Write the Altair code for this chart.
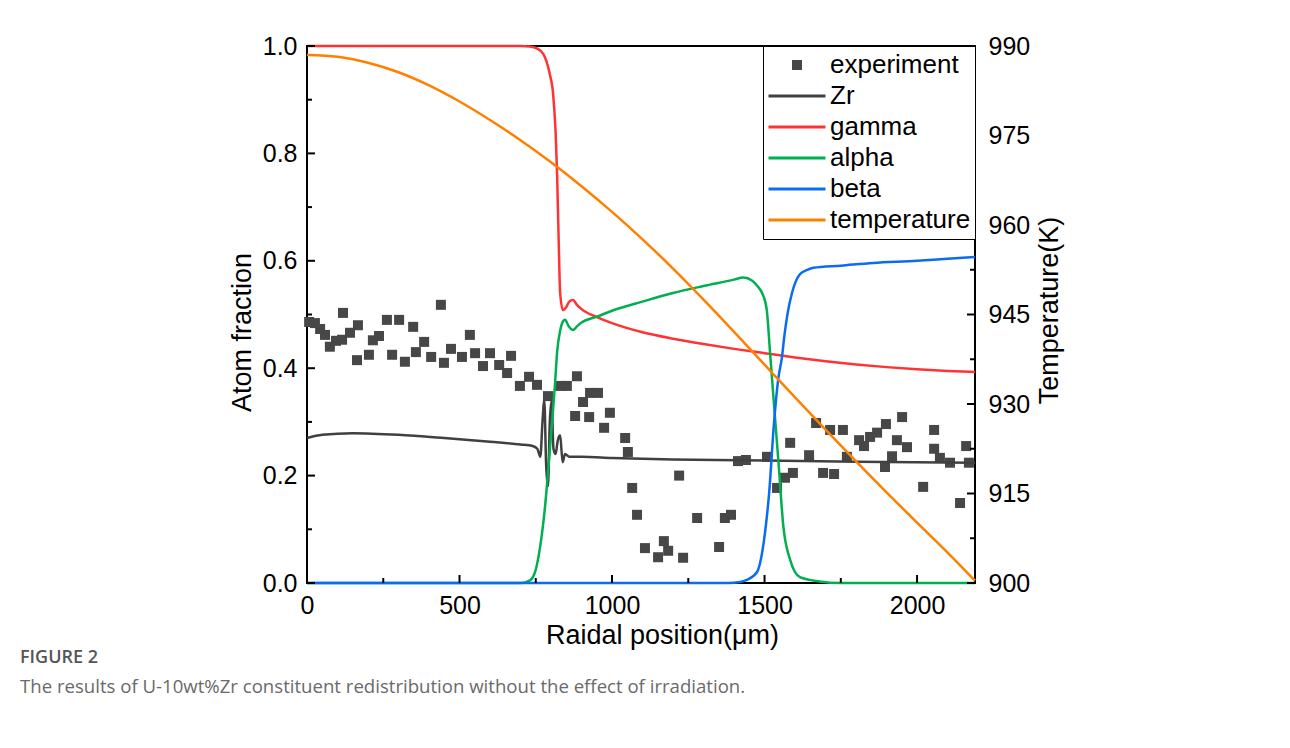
import altair as alt
import pandas as pd

# ---------------- data ----------------
exp_x = [7, 26, 43, 59, 75, 95, 115, 118, 141, 167,
         164, 203, 216, 236, 262, 279, 302, 321, 348, 357,
         384, 407, 439, 449, 472, 508, 534, 551, 577, 600,
         630, 656, 669, 698, 728, 754, 790, 830, 852, 885,
         879, 905, 925, 928, 954, 974, 993, 1043, 1052, 1066,
         1082, 1108, 1151, 1170, 1184, 1220, 1233, 1279, 1351, 1370,
         1390, 1413, 1439, 1508, 1541, 1567, 1593, 1584, 1646, 1669,
         1692, 1715, 1728, 1757, 1770, 1810, 1826, 1846, 1869, 1898,
         1895, 1918, 1934, 1951, 1967, 2020, 2056, 2056, 2075, 2108,
         2141, 2161, 2170]
exp_y = [0.486, 0.484, 0.473, 0.462, 0.440, 0.451, 0.453, 0.503, 0.466, 0.480,
         0.415, 0.425, 0.452, 0.460, 0.490, 0.425, 0.490, 0.412, 0.477, 0.430,
         0.449, 0.421, 0.518, 0.410, 0.436, 0.421, 0.462, 0.428, 0.404, 0.428,
         0.406, 0.391, 0.423, 0.367, 0.384, 0.369, 0.348, 0.367, 0.367, 0.385,
         0.311, 0.337, 0.309, 0.354, 0.354, 0.289, 0.317, 0.270, 0.244, 0.177,
         0.127, 0.065, 0.048, 0.078, 0.060, 0.200, 0.047, 0.121, 0.067, 0.121,
         0.127, 0.227, 0.229, 0.235, 0.177, 0.196, 0.205, 0.261, 0.238, 0.298,
         0.205, 0.285, 0.203, 0.285, 0.235, 0.266, 0.255, 0.272, 0.280, 0.296,
         0.216, 0.236, 0.266, 0.309, 0.253, 0.179, 0.285, 0.250, 0.233, 0.224,
         0.149, 0.255, 0.224]

zr_x = [0, 50, 150, 300, 450, 600, 700, 740, 755, 765, 772, 778, 784, 790,
        796, 802, 808, 815, 822, 830, 838, 846, 860, 900, 1000, 1200, 1500,
        1800, 2190]
zr_y = [0.270, 0.276, 0.279, 0.276, 0.270, 0.263, 0.258, 0.255, 0.250, 0.235,
        0.300, 0.340, 0.220, 0.180, 0.300, 0.340, 0.250, 0.240, 0.265, 0.275,
        0.225, 0.240, 0.235, 0.235, 0.233, 0.230, 0.228, 0.226, 0.224]

gamma_x = [0, 700, 730, 755, 775, 795, 807, 815, 820, 825, 830, 839, 848,
           860, 872, 885, 900, 951, 1000, 1100, 1200, 1300, 1400, 1500, 1600,
           1700, 1800, 1900, 2000, 2100, 2190]
gamma_y = [1.0, 1.0, 0.999, 0.995, 0.985, 0.95, 0.91, 0.84, 0.76, 0.64, 0.54,
           0.508, 0.512, 0.524, 0.527, 0.518, 0.510, 0.495, 0.484, 0.467, 0.455,
           0.445, 0.436, 0.428, 0.420, 0.413, 0.407, 0.402, 0.398, 0.395, 0.393]

alpha_x = [0, 700, 731, 750, 765, 780, 795, 805, 813, 820, 830, 839, 846,
           858, 872, 885, 900, 951, 1000, 1100, 1200, 1300, 1400, 1430, 1460,
           1478, 1492, 1507, 1518, 1530, 1545, 1562, 1584, 1616, 1680, 1750,
           2190]
alpha_y = [0.0, 0.0, 0.005, 0.025, 0.07, 0.14, 0.24, 0.31, 0.37, 0.43, 0.47,
           0.487, 0.490, 0.478, 0.471, 0.478, 0.485, 0.496, 0.507, 0.524, 0.540,
           0.553, 0.565, 0.569, 0.563, 0.552, 0.540, 0.510, 0.430, 0.340, 0.230,
           0.104, 0.043, 0.011, 0.003, 0.0, 0.0]

beta_x = [0, 1380, 1420, 1442, 1475, 1490, 1505, 1515, 1530, 1545, 1557, 1565,
          1575, 1590, 1616, 1640, 1660, 1750, 1856, 2000, 2100, 2190]
beta_y = [0.0, 0.0, 0.002, 0.006, 0.02, 0.05, 0.11, 0.167, 0.29, 0.38, 0.42,
          0.46, 0.50, 0.54, 0.575, 0.583, 0.587, 0.591, 0.596, 0.600, 0.604,
          0.607]

temp_x = [0, 100, 200, 300, 400, 500, 600, 700, 800, 900, 1000, 1100, 1200,
          1300, 1400, 1500, 1600, 1700, 1800, 1900, 2000, 2100, 2190]
temp_y = [988.5, 988.2, 987.2, 985.6, 983.4, 980.7, 977.6, 974.2, 970.5,
          966.5, 962.2, 957.6, 952.7, 947.5, 942.1, 936.6, 931.1, 925.7,
          920.4, 915.2, 910.1, 905.1, 900.4]

series_names = ["experiment", "Zr", "gamma", "alpha", "beta", "temperature"]
series_colors = ["#474747", "#404040", "#ff3333", "#00b050", "#0a6cf0", "#ff8000"]
legend_shapes = ["square", "stroke", "stroke", "stroke", "stroke", "stroke"]
legend_sizes = [25, 3249, 3249, 3249, 3249, 3249]
legend_widths = [5, 3, 3, 3, 3, 3]

x_major = [0, 500, 1000, 1500, 2000]
x_minor = [250, 750, 1250, 1750]
y_major = [0.0, 0.2, 0.4, 0.6, 0.8, 1.0]
y_minor = [0.1, 0.3, 0.5, 0.7, 0.9]
t_major = [900, 915, 930, 945, 960, 975, 990]
t_minor = [907.5, 922.5, 937.5, 952.5, 967.5, 982.5]

caption_title = "FIGURE 2"
caption_text = ("The results of U-10wt%Zr constituent redistribution "
                "without the effect of irradiation.")

# ---------------- tables ----------------
df_exp = pd.DataFrame({"x": exp_x, "y": exp_y, "series": "experiment"})
parts = []
for name, xs, ys in [("Zr", zr_x, zr_y), ("gamma", gamma_x, gamma_y),
                     ("alpha", alpha_x, alpha_y), ("beta", beta_x, beta_y)]:
    parts.append(pd.DataFrame({"x": xs, "y": ys, "series": name}))
df_lines = pd.concat(parts, ignore_index=True)
df_temp = pd.DataFrame({"x": temp_x, "t": temp_y, "series": "temperature"})

W, H = 668, 537
FONT = "Liberation Sans"

x_scale = alt.Scale(domain=[0, 2190], nice=False, zero=False)
y_scale = alt.Scale(domain=[0, 1], nice=False, zero=False)
t_scale = alt.Scale(domain=[900, 990], nice=False, zero=False)

legend = alt.Legend(
    title=None, orient="top-right", offset=0, padding=4, rowPadding=1,
    clipHeight=30, labelFont=FONT, labelFontSize=26, labelColor="black",
    labelOffset=3, labelLimit=400, strokeColor="black", fillColor="white",
    symbolOpacity=1,
)
color_enc = alt.Color("series:N",
                      scale=alt.Scale(domain=series_names, range=series_colors),
                      sort=series_names, legend=legend)

x_axis = alt.Axis(values=x_major, format="d", labelPadding=10, labelFlush=False,
                  title="Raidal position(\u03bcm)", titlePadding=4, titleX=355)
y_axis = alt.Axis(values=y_major, format=".1f", labelPadding=10, labelFlush=False,
                  title="Atom fraction", titlePadding=6, titleY=286)
t_axis = alt.Axis(orient="right", values=t_major, format="d", labelPadding=13,
                  labelFlush=False, title="Temperature(K)", titlePadding=34,
                  titleAngle=270, titleY=264)

points = alt.Chart(df_exp).mark_point(filled=False, opacity=1).encode(
    x=alt.X("x:Q", scale=x_scale, axis=x_axis),
    y=alt.Y("y:Q", scale=y_scale, axis=y_axis),
    color=color_enc,
    shape=alt.Shape("series:N", sort=series_names, legend=legend,
                    scale=alt.Scale(type="ordinal", domain=series_names, range=legend_shapes)),
    size=alt.Size("series:N", sort=series_names, legend=legend,
                  scale=alt.Scale(type="ordinal", domain=series_names, range=legend_sizes)),
    strokeWidth=alt.StrokeWidth("series:N", sort=series_names, legend=legend,
                                scale=alt.Scale(type="ordinal", domain=series_names, range=legend_widths)),
)
lines = alt.Chart(df_lines).mark_line(strokeWidth=2.5, interpolate="monotone").encode(
    x=alt.X("x:Q", scale=x_scale),
    y=alt.Y("y:Q", scale=y_scale),
    color=color_enc,
)

tick_color = "black"
df_xmaj = pd.DataFrame({"x": x_major})
df_xmin = pd.DataFrame({"x": x_minor})
df_ymaj = pd.DataFrame({"y": y_major})
df_ymin = pd.DataFrame({"y": y_minor})
df_tmaj = pd.DataFrame({"t": t_major})
df_tmin = pd.DataFrame({"t": t_minor})

xt_major = alt.Chart(df_xmaj).mark_rule(color=tick_color, strokeWidth=2).encode(
    x=alt.X("x:Q", scale=x_scale), y=alt.value(H), y2=alt.value(H - 8))
xt_minor = alt.Chart(df_xmin).mark_rule(color=tick_color, strokeWidth=2).encode(
    x=alt.X("x:Q", scale=x_scale), y=alt.value(H), y2=alt.value(H - 5))
yt_major = alt.Chart(df_ymaj).mark_rule(color=tick_color, strokeWidth=2).encode(
    y=alt.Y("y:Q", scale=y_scale), x=alt.value(0), x2=alt.value(8))
yt_minor = alt.Chart(df_ymin).mark_rule(color=tick_color, strokeWidth=2).encode(
    y=alt.Y("y:Q", scale=y_scale), x=alt.value(0), x2=alt.value(5))

temp_line = alt.Chart(df_temp).mark_line(strokeWidth=2.5, interpolate="monotone").encode(
    x=alt.X("x:Q", scale=x_scale),
    y=alt.Y("t:Q", scale=t_scale, axis=t_axis),
    color=color_enc,
)
tt_major = alt.Chart(df_tmaj).mark_rule(color=tick_color, strokeWidth=2).encode(
    y=alt.Y("t:Q", scale=t_scale), x=alt.value(W), x2=alt.value(W - 8))
tt_minor = alt.Chart(df_tmin).mark_rule(color=tick_color, strokeWidth=2).encode(
    y=alt.Y("t:Q", scale=t_scale), x=alt.value(W), x2=alt.value(W - 5))

left_group = alt.layer(points, lines, xt_major, xt_minor, yt_major, yt_minor)
right_group = alt.layer(temp_line, tt_major, tt_minor)

chart = alt.layer(left_group, right_group).resolve_scale(
    y="independent"
).properties(
    width=W, height=H,
    padding={"left": 299, "top": 38, "right": 307, "bottom": 157},
    autosize=alt.AutoSizeParams(type="none"),
    title=alt.TitleParams(
        text=caption_title, subtitle=caption_text, orient="bottom",
        anchor="start", frame="group", dx=-287, offset=1,
        font="Open Sans", fontSize=18, fontWeight=600, color="#555555",
        subtitleFont="Open Sans", subtitleFontSize=18.6, subtitleColor="#6a6a6a",
        subtitlePadding=11,
    ),
).configure_view(
    stroke="black", strokeWidth=2
).configure_axis(
    labelFont=FONT, labelFontSize=25, labelColor="black",
    titleFont=FONT, titleFontSize=27, titleFontWeight="normal", titleColor="black",
    domain=False, ticks=False, tickSize=0, grid=False,
)

chart.save("out.html", embed_options={"renderer": "svg", "actions": False})
